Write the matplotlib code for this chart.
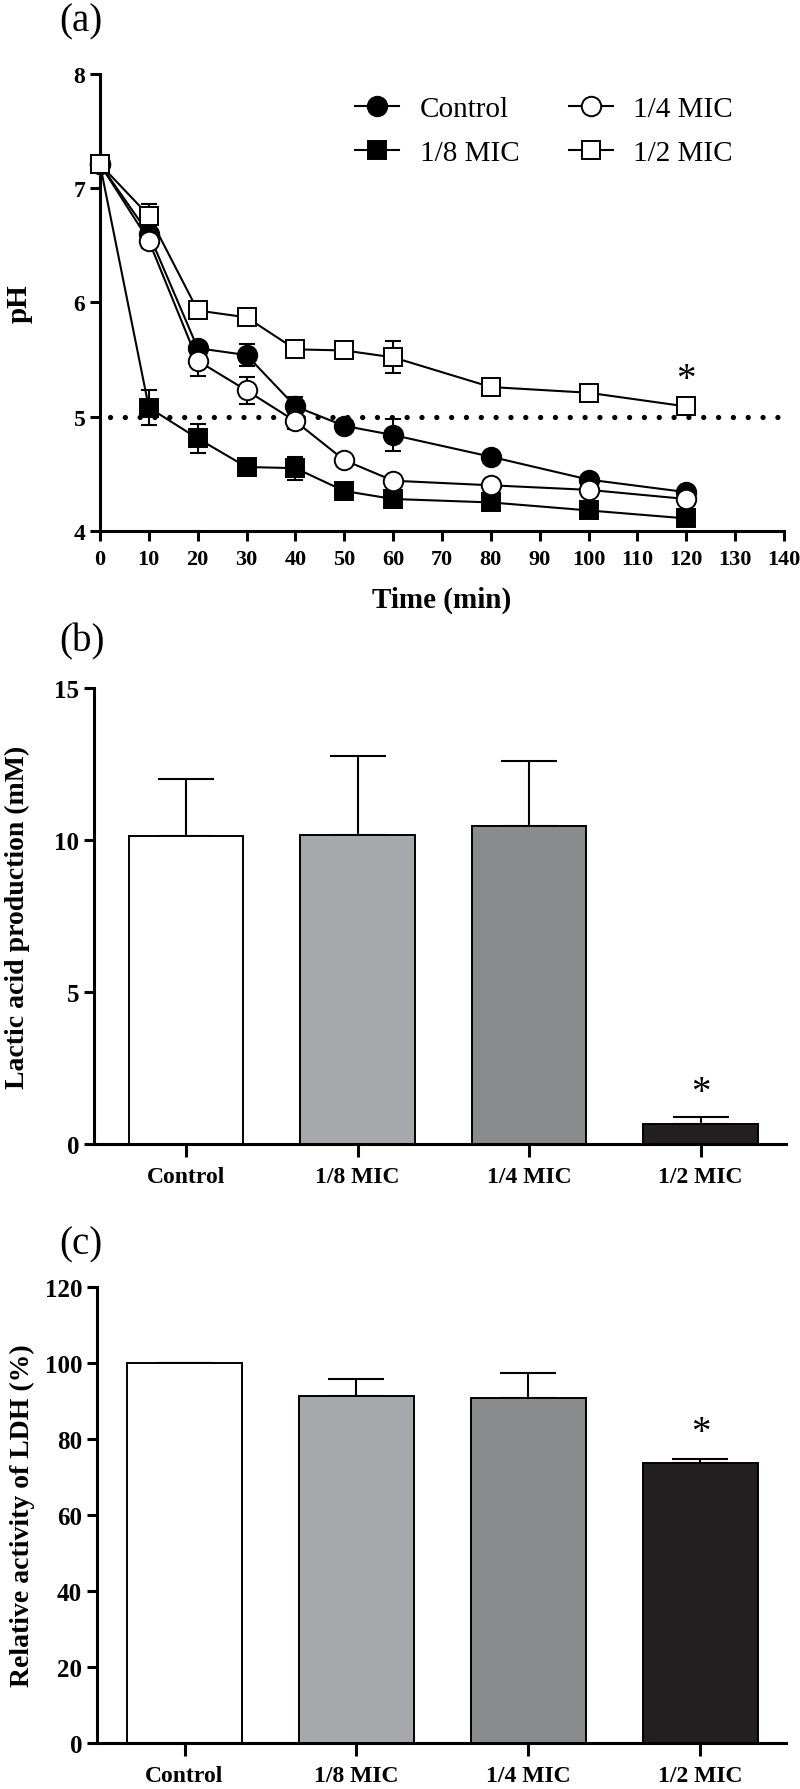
import matplotlib
matplotlib.use("Agg")
import matplotlib.pyplot as plt
import numpy as np

plt.rcParams['font.family'] = ['Liberation Serif', 'DejaVu Serif']

# ---------------- data ----------------
time_min = [0, 10, 20, 30, 40, 50, 60, 80, 100, 120]
ph_control = [7.21, 6.60, 5.60, 5.54, 5.09, 4.92, 4.84, 4.65, 4.45, 4.34]
ph_control_err = [0.03, 0.04, 0.03, 0.10, 0.08, 0.03, 0.14, 0.03, 0.03, 0.03]
ph_eighth = [7.21, 5.08, 4.81, 4.56, 4.55, 4.35, 4.28, 4.25, 4.18, 4.11]
ph_eighth_err = [0.03, 0.15, 0.13, 0.06, 0.10, 0.03, 0.03, 0.03, 0.03, 0.06]
ph_quarter = [7.21, 6.54, 5.49, 5.23, 4.96, 4.62, 4.44, 4.40, 4.36, 4.28]
ph_quarter_err = [0.03, 0.06, 0.13, 0.12, 0.07, 0.03, 0.03, 0.03, 0.03, 0.03]
ph_half = [7.21, 6.76, 5.93, 5.87, 5.59, 5.58, 5.52, 5.26, 5.21, 5.09]
ph_half_err = [0.03, 0.10, 0.05, 0.04, 0.04, 0.06, 0.14, 0.03, 0.03, 0.06]
ph_threshold = 5.0
ph_star_time = 120
ph_star_y = 5.33

groups = ['Control', '1/8 MIC', '1/4 MIC', '1/2 MIC']
lactic = [10.12, 10.16, 10.45, 0.67]
lactic_err = [1.90, 2.60, 2.15, 0.21]
ldh = [100.0, 91.4, 90.9, 73.6]
ldh_err = [0.0, 4.3, 6.4, 1.1]
bar_colors = ['#ffffff', '#a7a8ab', '#8a8b8d', '#231f20']

# ---------------- figure ----------------
fig = plt.figure(figsize=(8, 17.9), dpi=100)

SPINE_W = 2.2
LABEL_FS = 20

def style_axes(ax, fs):
    for s in ['top', 'right']:
        ax.spines[s].set_visible(False)
    for s in ['left', 'bottom']:
        ax.spines[s].set_linewidth(SPINE_W)
    ax.tick_params(direction='out', width=SPINE_W, length=7, labelsize=fs)
    for lab in ax.get_xticklabels() + ax.get_yticklabels():
        lab.set_fontweight('bold')

# ---- panel (a) ----
axA = fig.add_axes([0.125, 0.7028, 0.855, 0.2553])
series = [
    ('Control', ph_control, ph_control_err, 'o', 'black'),
    ('1/8 MIC', ph_eighth, ph_eighth_err, 's', 'black'),
    ('1/4 MIC', ph_quarter, ph_quarter_err, 'o', 'white'),
    ('1/2 MIC', ph_half, ph_half_err, 's', 'white'),
]
axA.hlines(ph_threshold, 2, 140, colors='black', linewidth=3.8,
           linestyles=[(0, (0.01, 2.8))], capstyle='round', zorder=1)
handles = []
for name, y, e, m, fc in series:
    axA.errorbar(time_min, y, yerr=e, fmt='none', ecolor='black',
                 elinewidth=1.5, capsize=5.5, capthick=1.5, zorder=2, clip_on=False)
    h, = axA.plot(time_min, y, color='black', linewidth=1.5, marker=m,
                  markersize=14 if m == 'o' else 13, markerfacecolor=fc,
                  markeredgecolor='black', markeredgewidth=1.4, label=name,
                  zorder=3, clip_on=False)
    handles.append(h)
axA.text(ph_star_time, ph_star_y, '*', ha='center', va='center', fontsize=28)
axA.set_xlim(0, 140)
axA.set_ylim(4, 8)
axA.set_xticks(np.arange(0, 141, 10))
axA.set_yticks([4, 5, 6, 7, 8])
style_axes(axA, 17)
axA.tick_params(axis='x', pad=6, labelsize=16)
axA.set_xlabel('Time (min)', fontsize=LABEL_FS + 1, fontweight='bold', labelpad=12)
axA.set_ylabel('pH', fontsize=LABEL_FS + 1, fontweight='bold')
axA.yaxis.set_label_coords(-0.098, 0.5)
axA.legend(handles=handles, ncol=2, frameon=False, loc='upper left',
           bbox_to_anchor=(0.335, 1.01), fontsize=21, handlelength=1.5,
           columnspacing=1.7, handletextpad=0.7, labelspacing=0.6)
fig.text(0.074, 0.9875, '(a)', fontsize=28, ha='left', va='center')

# ---- bar panels ----
def bar_panel(rect, values, errs, ylim, yticks, ylabel, star_y, label, label_y,
              xleft, ylab_x):
    ax = fig.add_axes(rect)
    x = np.arange(len(groups))
    ax.bar(x, values, width=0.667, color=bar_colors, edgecolor='black',
           linewidth=1.4, zorder=2)
    ax.errorbar(x, values, yerr=[np.zeros(len(errs)), errs], fmt='none',
                ecolor='black', elinewidth=1.5, capsize=20.5, capthick=1.5, zorder=1)
    ax.text(x[-1], star_y, '*', ha='center', va='center', fontsize=28)
    ax.set_xlim(xleft, 3.5)
    ax.set_ylim(*ylim)
    ax.set_yticks(yticks)
    ax.set_xticks(x)
    ax.set_xticklabels(groups)
    style_axes(ax, 18)
    ax.tick_params(axis='x', length=9, pad=7, labelsize=17)
    ax.set_ylabel(ylabel, fontsize=LABEL_FS, fontweight='bold')
    ax.yaxis.set_label_coords(ylab_x, 0.5)
    fig.text(0.074, label_y, label, fontsize=28, ha='left', va='center')
    return ax

bar_panel([0.117, 0.3603, 0.866, 0.2547], lactic, lactic_err, (0, 15), [0, 5, 10, 15],
          'Lactic acid production (mM)', 1.7, '(b)', 1 - 642 / 1790, -0.54, -0.092)
bar_panel([0.121, 0.0257, 0.862, 0.2547], ldh, ldh_err, (0, 120),
          [0, 20, 40, 60, 80, 100, 120],
          'Relative activity of LDH (%)', 81.8, '(c)', 1 - 1245 / 1790, -0.51, -0.09)

fig.savefig('out.png', dpi=100)
